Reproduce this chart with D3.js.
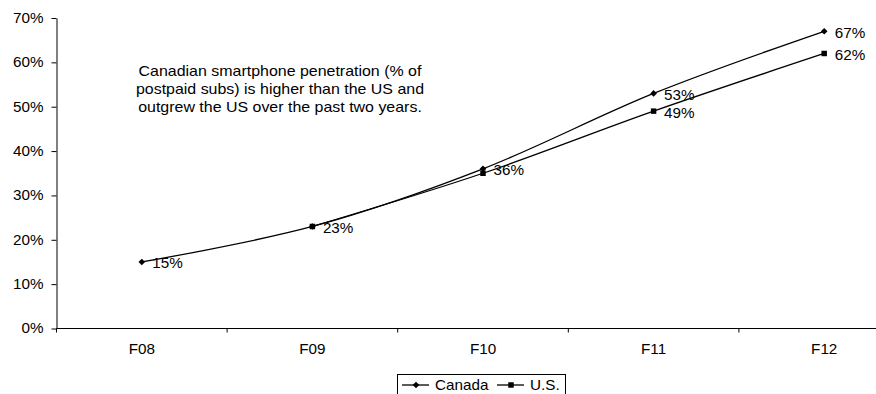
<!DOCTYPE html>
<html>
<head>
<meta charset="utf-8">
<script src="https://cdn.jsdelivr.net/npm/d3@7"></script>
<style>
  html, body { margin: 0; padding: 0; background: #fff; }
  svg { display: block; font-family: "Liberation Sans", Arial, sans-serif; }
</style>
</head>
<body>
<svg id="chart" width="876" height="394"></svg>
<script>
// Smartphone penetration (% of postpaid subscribers), fiscal years
const categories = ["F08", "F09", "F10", "F11", "F12"];
const canadaValues = [0.15, 0.23, 0.36, 0.53, 0.67];
const usCategories = ["F09", "F10", "F11", "F12"];
const usValues = [0.23, 0.35, 0.49, 0.62];
const yTicks = [0, 0.1, 0.2, 0.3, 0.4, 0.5, 0.6, 0.7];
const canadaLabelled = [true, true, true, true, true];
const usLabelled = [false, false, true, true];
const noteLines = [
  "Canadian smartphone penetration (% of",
  "postpaid subs) is higher than the US and",
  "outgrew the US over the past two years."
];
const legendNames = ["Canada", "U.S."];

const svg = d3.select("#chart");
const FONT = 14;
const STRETCH = 1.09;

// widen glyphs horizontally about their own anchor point
function stretch(sel, k) {
  sel.each(function () {
    const t = d3.select(this);
    const x = +t.attr("x") || 0;
    t.attr("transform", `translate(${x * (1 - k)},0) scale(${k},1)`);
  });
}

const left = 56.5, bandW = 170.6;
const x = d3.scaleBand().domain(categories).range([left, left + bandW * categories.length]);
const y = d3.scaleLinear().domain([0, 0.7]).range([328.5, 18]);

// y axis
const yAxis = svg.append("g")
  .attr("transform", `translate(${left},0)`)
  .call(d3.axisLeft(y).tickValues(yTicks).tickFormat(d3.format(".0%")).tickSize(5).tickPadding(8).tickSizeOuter(0));
yAxis.select(".domain").attr("stroke", "#000");
yAxis.selectAll(".tick line").attr("stroke", "#000");
yAxis.selectAll("text").attr("font-size", FONT).attr("fill", "#000").attr("font-family", null).call(stretch, STRETCH);

// x axis: category labels centred in each band, tick marks on band edges
const xAxis = svg.append("g")
  .attr("transform", `translate(0,${y(0)})`)
  .call(d3.axisBottom(x).tickSize(0).tickPadding(16).tickSizeOuter(0));
xAxis.select(".domain").remove();
xAxis.append("line")
  .attr("x1", left).attr("x2", x.range()[1])
  .attr("stroke", "#000").attr("stroke-width", 1.2);
xAxis.selectAll(".tick text").attr("font-size", FONT).attr("fill", "#000").attr("font-family", null).call(stretch, STRETCH);
const edges = categories.map(c => x(c)).concat([x.range()[1]]);
xAxis.selectAll(".edge").data(edges).join("line")
  .attr("class", "edge")
  .attr("x1", d => d).attr("x2", d => d)
  .attr("y1", 0).attr("y2", 4)
  .attr("stroke", "#000");

const cx = c => x(c) + x.bandwidth() / 2;
const line = d3.line().curve(d3.curveCardinal.tension(0));

const canadaPts = categories.map((c, i) => [cx(c), y(canadaValues[i])]);
const usPts = usCategories.map((c, i) => [cx(c), y(usValues[i])]);

svg.append("path").attr("d", line(canadaPts))
  .attr("fill", "none").attr("stroke", "#000").attr("stroke-width", 1.3);
svg.append("path").attr("d", line(usPts))
  .attr("fill", "none").attr("stroke", "#000").attr("stroke-width", 1.3);

const diamond = d3.symbol(d3.symbolSquare, 22)();
const square = d3.symbol(d3.symbolSquare, 30)();

svg.selectAll(".mk-ca").data(canadaPts).join("path")
  .attr("class", "mk-ca").attr("d", diamond)
  .attr("transform", d => `translate(${d[0]},${d[1]}) rotate(45)`)
  .attr("fill", "#000");
svg.selectAll(".mk-us").data(usPts).join("path")
  .attr("class", "mk-us").attr("d", square)
  .attr("transform", d => `translate(${d[0]},${d[1]})`)
  .attr("fill", "#000");

// data labels
const fmt = d3.format(".0%");
function labels(pts, vals, show, cls) {
  svg.selectAll("." + cls).data(pts.filter((p, i) => show[i]).map((p, j) => p))
    .join("text");
  const rows = pts.map((p, i) => ({ p, v: vals[i], s: show[i] })).filter(d => d.s);
  svg.selectAll("." + cls).remove();
  svg.selectAll("." + cls).data(rows).join("text")
    .attr("class", cls)
    .attr("x", d => d.p[0] + 10.5)
    .attr("y", d => d.p[1] + 1.5)
    .attr("dy", "0.35em")
    .attr("font-size", FONT)
    .attr("fill", "#000")
    .text(d => fmt(d.v))
    .call(stretch, STRETCH);
}
labels(canadaPts, canadaValues, canadaLabelled, "lb-ca");
labels(usPts, usValues, usLabelled, "lb-us");

// annotation
svg.append("g").selectAll("text").data(noteLines).join("text")
  .attr("x", 280).attr("y", (d, i) => 71 + i * 18)
  .attr("dy", "0.35em")
  .attr("text-anchor", "middle")
  .attr("font-size", FONT)
  .attr("fill", "#000")
  .text(d => d)
  .call(stretch, 1.14);

// legend
const lg = svg.append("g");
lg.append("rect").attr("x", 397.5).attr("y", 374.5).attr("width", 168).attr("height", 30)
  .attr("fill", "#fff").attr("stroke", "#000");
const legendX = [402, 497];
const legendSymbols = [{ d: diamond, rot: 45 }, { d: square, rot: 0 }];
legendNames.forEach((name, i) => {
  const x0 = legendX[i], ly = 385;
  lg.append("line").attr("x1", x0).attr("x2", x0 + 27).attr("y1", ly).attr("y2", ly)
    .attr("stroke", "#000").attr("stroke-width", 1.3);
  lg.append("path").attr("d", legendSymbols[i].d)
    .attr("transform", `translate(${x0 + 14},${ly}) rotate(${legendSymbols[i].rot})`)
    .attr("fill", "#000");
  lg.append("text").attr("x", x0 + 33).attr("y", ly).attr("dy", "0.35em")
    .attr("font-size", FONT).attr("fill", "#000").text(name)
    .call(stretch, STRETCH);
});
</script>
</body>
</html>
